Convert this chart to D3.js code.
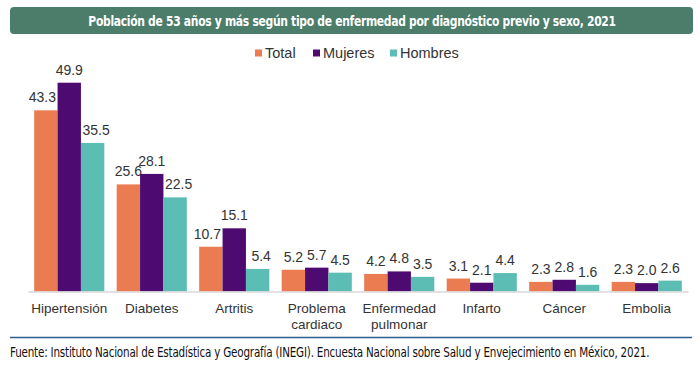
<!DOCTYPE html>
<html>
<head>
<meta charset="utf-8">
<script src="https://cdn.jsdelivr.net/npm/d3@7"></script>
<style>
  body { margin: 0; background: #fff; }
  svg { display: block; }
</style>
</head>
<body>
<div id="chart"></div>
<script>
// chart data
const categories = ["Hipertensión", "Diabetes", "Artritis", "Problema cardiaco", "Enfermedad pulmonar", "Infarto", "Cáncer", "Embolia"];
const seriesNames = ["Total", "Mujeres", "Hombres"];
const total   = [43.3, 25.6, 10.7, 5.2, 4.2, 3.1, 2.3, 2.3];
const mujeres = [49.9, 28.1, 15.1, 5.7, 4.8, 2.1, 2.8, 2.0];
const hombres = [35.5, 22.5, 5.4, 4.5, 3.5, 4.4, 1.6, 2.6];
const colors = ["#EB7B51", "#4D0B72", "#5BBDB3"];

const titleText = "Población de 53 años y más según tipo de enfermedad por diagnóstico previo y sexo, 2021";
const sourceText = "Fuente: Instituto Nacional de Estadística y Geografía (INEGI). Encuesta Nacional sobre Salud y Envejecimiento en México, 2021.";

const width = 700, height = 373;
const series = [total, mujeres, hombres];
const condensed = "'Liberation Sans Narrow', 'DejaVu Sans Condensed', 'Roboto Condensed', sans-serif";
const sans = "'Liberation Sans', Arial, sans-serif";

const svg = d3.select("#chart").append("svg")
    .attr("width", width)
    .attr("height", height);

// shrink a text's font size until it fits the wanted width
function fitWidth(sel, maxW, size) {
    sel.attr("font-size", size);
    const w = sel.node().getComputedTextLength();
    if (w > maxW) sel.attr("font-size", size * maxW / w);
}

// title banner
svg.append("rect")
    .attr("x", 10).attr("y", 7)
    .attr("width", 683).attr("height", 27)
    .attr("rx", 4)
    .attr("fill", "#4B7D6A");

const title = svg.append("text")
    .attr("transform", "translate(352,25.5) scale(1,1.2)")
    .attr("text-anchor", "middle")
    .attr("fill", "#fff")
    .attr("font-family", condensed)
    .attr("font-weight", "bold")
    .attr("letter-spacing", -0.3)
    .text(titleText);
fitWidth(title, 532, 14.5);

// legend
const legendX = [255, 313, 390];
const legend = svg.append("g");
seriesNames.forEach((name, i) => {
    legend.append("rect")
        .attr("x", legendX[i]).attr("y", 49.5)
        .attr("width", 7).attr("height", 7)
        .attr("fill", colors[i]);
    legend.append("text")
        .attr("x", legendX[i] + 10).attr("y", 58)
        .attr("font-family", sans)
        .attr("font-size", 14.5)
        .attr("fill", "#333")
        .text(name);
});

// scales
const x0 = d3.scaleBand()
    .domain(categories)
    .range([28, 688])
    .paddingInner(0.15)
    .paddingOuter(0.075);

const x1 = d3.scaleBand()
    .domain(seriesNames)
    .range([0, x0.bandwidth()]);

const y = d3.scaleLinear()
    .domain([0, 50])
    .range([291.5, 82.3]);

// bars
const groups = svg.append("g").selectAll("g")
    .data(categories)
    .join("g")
    .attr("transform", d => `translate(${x0(d)},0)`);

const cells = (d, i) => series.map((s, j) => ({
    key: seriesNames[j], value: s[i], idx: j,
    left: j > 0 ? series[j - 1][i] : null,
    right: j < series.length - 1 ? series[j + 1][i] : null
}));

groups.selectAll("rect")
    .data(cells)
    .join("rect")
    .attr("x", d => x1(d.key))
    .attr("y", d => y(d.value))
    .attr("width", x1.bandwidth())
    .attr("height", d => y(0) - y(d.value))
    .attr("fill", d => colors[d.idx]);

// labels nudge away from a much taller neighbour bar
function nudge(d) {
    if (d.right !== null && d.right - d.value > 3) return -3.5;
    if (d.left !== null && d.left - d.value > 3) return 3.5;
    return 0;
}

groups.selectAll("text.val")
    .data(cells)
    .join("text")
    .attr("class", "val")
    .attr("x", d => x1(d.key) + x1.bandwidth() / 2 + nudge(d))
    .attr("y", d => y(d.value) - 8)
    .attr("text-anchor", "middle")
    .attr("font-family", sans)
    .attr("font-size", 14)
    .attr("fill", "#333")
    .text(d => d.value.toFixed(1));

// x axis
const xAxis = svg.append("g")
    .attr("transform", `translate(0,${y(0)})`)
    .call(d3.axisBottom(x0).tickSize(0).tickPadding(0));

xAxis.select(".domain").attr("stroke", "#D9D9D9").attr("stroke-width", 1.5);

xAxis.selectAll(".tick text").remove();
xAxis.selectAll(".tick").each(function(d) {
    const words = d.split(" ");
    const t = d3.select(this).append("text")
        .attr("text-anchor", "middle")
        .attr("font-family", sans)
        .attr("font-size", 13.5)
        .attr("fill", "#333");
    words.forEach((w, k) => {
        t.append("tspan")
            .attr("x", 0)
            .attr("y", 21 + k * 16.5)
            .text(w);
    });
});

// footer
svg.append("line")
    .attr("x1", 10).attr("x2", 692)
    .attr("y1", 337.5).attr("y2", 337.5)
    .attr("stroke", "#2F5D8A")
    .attr("stroke-width", 1.5);

const source = svg.append("text")
    .attr("transform", "translate(10,356.5) scale(1,1.15)")
    .attr("font-family", condensed)
    .attr("fill", "#111")
    .attr("letter-spacing", -0.2)
    .text(sourceText);
fitWidth(source, 642, 13);
</script>
</body>
</html>
